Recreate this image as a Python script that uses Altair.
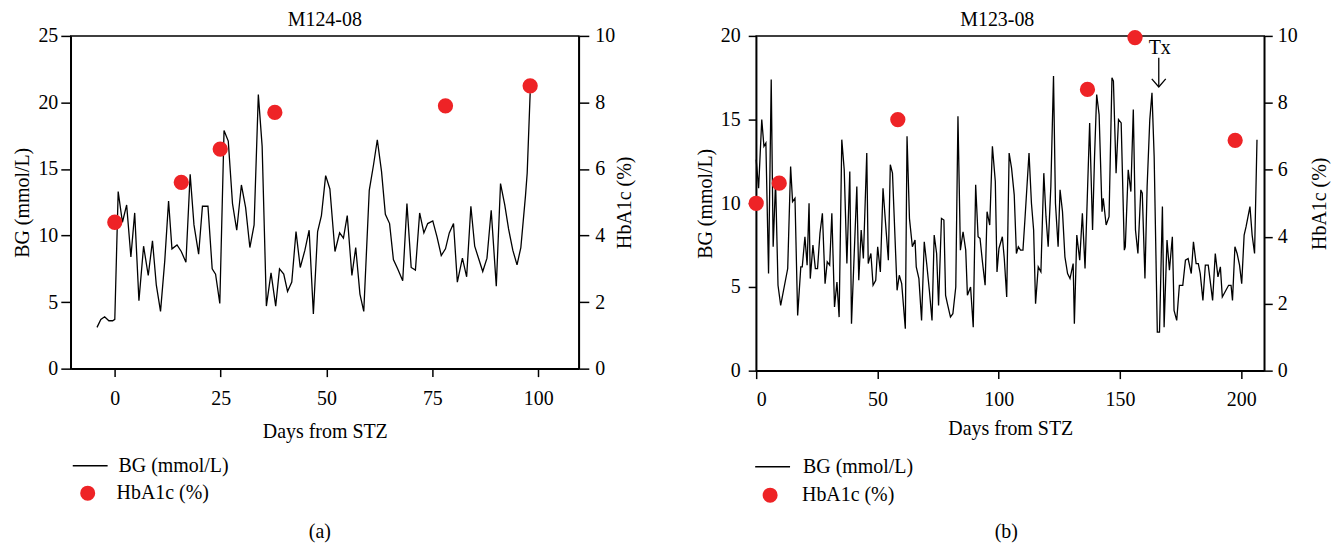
import altair as alt
import pandas as pd

FONT = "Liberation Serif"
RED = "#EE2326"

# ---------------- Panel (a): M124-08 ----------------
a_days = [-4.2, -3.3, -2.4, -1.4, -0.5, 0.0, 0.8, 1.8, 2.8, 3.8, 4.7, 5.7, 6.8, 7.9, 8.9, 9.8,
          10.8, 11.8, 12.7, 13.5, 14.7, 15.7, 16.8, 17.8, 18.7, 19.8, 20.7, 22.0, 23.0, 23.8,
          24.8, 25.8, 26.8, 27.8, 28.8, 29.9, 30.9, 31.9, 32.9, 33.9, 34.8, 35.8, 36.9, 38.0,
          38.9, 39.9, 40.8, 41.8, 42.8, 43.8, 44.9, 45.9, 46.9, 47.9, 48.8, 49.8, 50.8, 52.0,
          53.1, 54.0, 54.9, 56.0, 56.9, 57.9, 58.8, 60.1, 61.1, 62.0, 63.0, 63.9, 64.9, 65.8,
          66.8, 68.0, 69.0, 70.0, 71.0, 72.0, 73.0, 73.9, 75.1, 76.1, 77.1, 78.1, 79.0, 80.0,
          80.9, 82.1, 83.1, 84.1, 85.0, 86.0, 86.9, 87.9, 88.9, 90.1, 91.1, 92.1, 93.0, 94.0,
          95.0, 95.9, 97.0, 97.4, 98.1]
a_bg = [3.1, 3.7, 3.9, 3.6, 3.6, 3.7, 13.3, 11.0, 12.3, 8.4, 11.7, 5.1, 9.2, 7.0, 9.6, 6.3,
        4.3, 8.1, 12.6, 9.0, 9.3, 8.8, 8.0, 14.6, 10.8, 8.6, 12.2, 12.2, 7.5, 7.1,
        4.9, 17.9, 17.1, 12.4, 10.4, 13.8, 12.1, 9.1, 10.8, 20.6, 16.7, 4.7, 7.2, 4.7,
        7.5, 7.1, 5.8, 6.5, 10.3, 7.6, 8.9, 10.4, 4.1, 10.3, 11.5, 14.5, 13.5, 8.8,
        10.2, 9.8, 11.5, 7.0, 9.1, 5.6, 4.3, 13.4, 15.3, 17.2, 14.8, 11.6, 10.9, 8.2,
        7.5, 6.6, 12.4, 7.6, 7.4, 11.7, 10.2, 10.9, 11.1, 9.9, 8.5, 9.0, 10.2, 10.9,
        6.5, 8.3, 6.9, 12.2, 9.2, 8.2, 7.3, 8.3, 11.9, 6.2, 13.9, 12.3, 10.5, 8.9,
        7.8, 9.1, 13.0, 14.7, 20.7]
a_hb_days = [0.0, 15.7, 24.9, 37.8, 78.1, 98.1]
a_hb = [4.4, 5.6, 6.6, 7.7, 7.9, 8.5]

# ---------------- Panel (b): M123-08 ----------------
b_days = [0.0, 1.0, 2.3, 3.2, 4.0, 5.1, 6.2, 7.0, 8.0, 9.0, 10.1, 13.0, 14.2, 15.0, 16.0, 17.1,
          18.4, 19.0, 20.1, 21.0, 21.8, 22.3, 23.4, 24.4, 25.3, 26.3, 27.3, 28.4, 29.3, 30.3,
          31.2, 32.3, 33.3, 34.2, 35.3, 36.3, 37.4, 38.6, 39.3, 41.5, 42.3, 43.3, 44.2, 45.6,
          46.2, 47.3, 48.2, 49.3, 50.1, 51.2, 52.3, 53.3, 54.5, 55.3, 56.2, 58.1, 59.0, 60.0,
          61.5, 62.2, 63.2, 64.4, 65.5, 66.0, 67.1, 68.2, 69.3, 70.3, 71.4, 72.5, 73.4, 74.4,
          75.2, 76.4, 77.4, 78.1, 79.0, 80.1, 81.1, 82.3, 83.2, 84.2, 85.3, 86.4, 87.1, 88.4,
          89.5, 90.5, 91.5, 92.3, 93.3, 94.4, 95.2, 96.3, 97.4, 98.6, 99.3, 100.1, 101.5, 102.3,
          103.3, 104.3, 105.3, 106.4, 107.3, 108.1, 109.0, 110.0, 110.8, 112.5, 113.5, 114.4,
          115.2, 116.3, 117.4, 118.6, 119.5, 120.4, 121.5, 122.6, 123.4, 124.5, 125.3, 126.3,
          127.3, 128.4, 129.4, 130.7, 131.2, 132.2, 133.4, 134.5, 135.6, 137.5, 138.7, 139.5,
          140.4, 141.4, 142.6, 143.1, 144.3, 145.5, 146.7, 147.3, 148.4, 149.4, 150.5, 151.8,
          152.2, 153.4, 154.5, 155.5, 156.4, 157.4, 158.6, 159.2, 160.3, 161.2, 162.3, 163.2,
          164.1, 165.4, 166.3, 167.5, 168.2, 169.4, 170.4, 171.6, 172.3, 173.4, 174.5, 175.9,
          177.0, 178.1, 179.4, 180.3, 181.4, 182.3, 183.1, 184.2, 185.2, 186.4, 188.2, 189.3,
          190.4, 191.4, 192.2, 193.3, 194.8, 195.8, 196.4, 197.4, 198.3, 199.3, 200.2, 201.2,
          202.0, 203.6, 204.5, 205.5, 206.5]
b_bg = [12.6, 10.9, 15.0, 13.4, 13.6, 5.8, 17.4, 7.4, 11.3, 5.1, 3.9, 6.1, 12.2, 10.1, 10.3, 3.3,
        6.2, 6.2, 8.0, 6.3, 10.0, 5.5, 7.5, 6.1, 6.1, 8.2, 9.4, 5.2, 6.5, 6.3,
        9.4, 3.8, 5.3, 3.2, 13.8, 12.0, 6.4, 11.9, 2.8, 11.0, 5.4, 8.4, 6.7, 13.0,
        6.4, 7.0, 5.1, 5.4, 7.4, 5.9, 10.9, 8.9, 6.6, 12.3, 11.8, 4.8, 5.7, 5.2,
        2.5, 14.0, 9.1, 7.4, 7.8, 6.2, 5.5, 3.0, 7.7, 6.4, 4.8, 3.0, 8.1, 7.0,
        3.9, 9.1, 9.0, 4.5, 3.9, 3.2, 3.4, 5.0, 15.2, 7.2, 8.3, 7.2, 4.5, 5.0,
        2.6, 11.1, 8.0, 7.9, 6.5, 5.1, 9.5, 8.7, 13.4, 11.3, 5.9, 7.3, 8.0, 6.7,
        4.4, 13.0, 12.1, 10.5, 7.0, 7.4, 7.2, 7.2, 9.0, 13.0, 10.0, 8.4,
        4.0, 6.2, 5.9, 11.8, 9.2, 7.4, 11.0, 17.6, 10.0, 7.4, 10.8, 9.5,
        6.8, 5.8, 5.5, 6.4, 2.8, 8.1, 6.6, 9.4, 6.1, 14.8, 8.4, 12.7,
        16.5, 15.3, 9.5, 10.3, 8.7, 9.2, 17.5, 17.3, 11.8, 15.0, 14.8, 7.2,
        7.4, 12.0, 10.7, 15.6, 8.4, 7.0, 10.8, 10.6, 5.5, 11.0, 15.0, 16.6,
        12.8, 2.3, 2.3, 9.8, 2.6, 7.8, 6.0, 8.0, 3.6, 3.0, 5.1, 5.1,
        6.6, 6.7, 5.8, 7.7, 6.4, 6.4, 5.8, 4.2, 6.3, 6.3, 4.2, 7.0,
        5.6, 6.2, 4.4, 4.7, 5.1, 5.1, 4.2, 7.4, 7.0, 6.3, 5.2, 8.1,
        8.6, 9.8, 8.1, 7.0, 13.8]
b_hb_days = [0.0, 9.5, 58.4, 136.6, 156.2, 197.5]
b_hb = [5.0, 5.6, 7.5, 8.4, 9.95, 6.88]

# Tx annotation (day, text position, arrow top, arrow tip) on BG scale
tx_day = [166]
tx_label = ["Tx"]
tx_text_bg = [19.25]
tx_arrow_top = [18.7]
tx_arrow_tip = [16.95]

BG_NAME = "BG (mmol/L)"
HB_NAME = "HbA1c (%)"


def panel(days, bg, hb_days, hb, title, caption, xdomain, xticks, bgmax, bgticks, g, extra=None):
    bg_df = pd.DataFrame({"day": days, "bg": bg, "series": BG_NAME})
    hb_df = pd.DataFrame({"day": hb_days, "hb": hb, "series": HB_NAME})

    xenc = alt.X("day:Q",
                 scale=alt.Scale(domain=xdomain, nice=False, zero=False),
                 axis=alt.Axis(values=xticks, title="Days from STZ", tickSize=8,
                               labelPadding=g["xlp"], titlePadding=g["xtp"]))
    ybg = alt.Y("bg:Q", title=BG_NAME,
                scale=alt.Scale(domain=[0, bgmax], nice=False, zero=True),
                axis=alt.Axis(orient="left", values=bgticks, tickSize=g["lts"],
                              labelPadding=g["llp"], titlePadding=g["ltp"]))

    line = alt.Chart(bg_df).mark_line(strokeWidth=1.3, clip=False).encode(
        x=xenc, y=ybg,
        stroke=alt.Stroke("series:N", title=None,
                          scale=alt.Scale(domain=[BG_NAME], range=["black"]),
                          legend=alt.Legend(orient="none", legendX=g["l1x"], legendY=g["l1y"],
                                            symbolType="stroke", symbolSize=g["l1s"],
                                            symbolStrokeWidth=1.5, labelOffset=g["l1o"],
                                            labelFont=FONT, labelFontSize=20,
                                            labelColor="black", padding=0))
    )
    cap = alt.Chart(pd.DataFrame({"t": [caption]})).mark_text(
        font=FONT, fontSize=20, color="black", baseline="middle", align="center"
    ).encode(text="t:N", x=alt.value(g["capx"]), y=alt.value(g["capy"]))

    inner = [line, cap]
    if extra is not None:
        inner += extra

    pts = alt.Chart(hb_df).mark_circle(size=235, opacity=1, clip=False).encode(
        x=alt.X("day:Q"),
        y=alt.Y("hb:Q", title=HB_NAME,
                scale=alt.Scale(domain=[0, 10], nice=False, zero=True),
                axis=alt.Axis(orient="right", values=[0, 2, 4, 6, 8, 10], tickSize=g["rts"],
                              labelPadding=g["rlp"], titlePadding=g["rtp"],
                              titleAngle=270, titleBaseline="top")),
        color=alt.Color("series:N", title=None,
                        scale=alt.Scale(domain=[HB_NAME], range=[RED]),
                        legend=alt.Legend(orient="none", legendX=g["l2x"], legendY=g["l2y"],
                                          symbolType="circle", symbolSize=227,
                                          symbolOpacity=1, labelOffset=g["l2o"],
                                          labelFont=FONT, labelFontSize=20,
                                          labelColor="black", padding=0))
    )

    return alt.layer(alt.layer(*inner), pts).resolve_scale(y="independent").properties(
        width=510, height=g["h"],
        title=alt.TitleParams(title, offset=g["to"], dx=g["tdx"], frame="group", anchor="middle"),
    )


ga = dict(h=334, xlp=11.5, xtp=14, lts=10, llp=3, ltp=5, rts=10, rlp=6, rtp=0,
          l1x=1, l1y=413, l1s=1225, l1o=10, l2x=7, l2y=449, l2o=19,
          capx=250, capy=498, to=-4, tdx=0)
gb = dict(h=336, xlp=10.5, xtp=9.5, lts=8, llp=8, ltp=5, rts=8, rlp=5, rtp=12,
          l1x=-2, l1y=414, l1s=1225, l1o=12, l2x=4, l2y=451, l2o=22,
          capx=251, capy=498, to=-4, tdx=-13)

tx_df = pd.DataFrame({"day": tx_day, "label": tx_label, "bg": tx_text_bg,
                      "top": tx_arrow_top, "tip": tx_arrow_tip})
tx_text = alt.Chart(tx_df).mark_text(font=FONT, fontSize=20, color="black",
                                     baseline="middle", align="center", dx=1).encode(
    x="day:Q", y=alt.Y("bg:Q", title=BG_NAME), text="label:N")
tx_rule = alt.Chart(tx_df).mark_rule(color="black", strokeWidth=1.3).encode(
    x="day:Q", y=alt.Y("top:Q", title=BG_NAME), y2="tip:Q")
tx_head = alt.Chart(tx_df).mark_point(shape="M-1,-1.15L0,0L1,-1.15", filled=False,
                                      color="black", strokeWidth=1.3, size=196,
                                      opacity=1).encode(
    x="day:Q", y=alt.Y("tip:Q", title=BG_NAME))

left = panel(a_days, a_bg, a_hb_days, a_hb, "M124-08", "(a)", [-10.4, 109.6],
             [0, 25, 50, 75, 100], 25, [0, 5, 10, 15, 20, 25], ga)
right = panel(b_days, b_bg, b_hb_days, b_hb, "M123-08", "(b)", [0, 209.5],
              [0, 50, 100, 150, 200], 20, [0, 5, 10, 15, 20], gb,
              extra=[tx_text, tx_rule, tx_head])

chart = alt.hconcat(left, right, spacing=59).resolve_scale(
    color="independent", stroke="independent"
).properties(
    padding={"left": 4, "top": 0, "right": 5, "bottom": 0}
).configure_view(
    stroke="black", strokeWidth=1.5
).configure_axis(
    labelFont=FONT, titleFont=FONT, labelFontSize=20, titleFontSize=20,
    labelColor="black", titleColor="black", titleFontWeight="normal",
    domainColor="black", tickColor="black", domainWidth=1.5, tickWidth=1.5, grid=False
).configure_title(
    font=FONT, fontSize=20, fontWeight="normal", color="black"
).configure_legend(
    labelFont=FONT, labelFontSize=20
)

chart.save("out.html", embed_options={"renderer": "svg", "actions": False})
